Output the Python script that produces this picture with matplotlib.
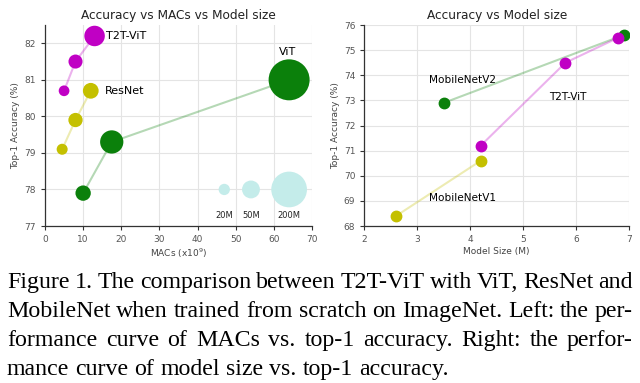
import matplotlib
matplotlib.use("Agg")
import matplotlib.pyplot as plt

# ==========================================
# Data
# ==========================================

# left: MACs (x10^9), top-1 (%), params (M)
t2t_macs = [5.0, 8.0, 13.0]
t2t_acc = [80.7, 81.5, 82.2]
t2t_params = [18, 31, 66]

resnet_macs = [4.5, 8.0, 12.0]
resnet_acc = [79.1, 79.9, 80.7]
resnet_params = [19, 32, 39]

vit_macs = [10.0, 17.5, 64.0]
vit_acc = [77.9, 79.3, 81.0]
vit_params = [37, 85, 264]

size_ref_macs = [47, 54, 64]
size_ref_acc = [78.0, 78.0, 78.0]
size_ref_params = [20, 50, 200]
size_ref_labels = ["20M", "50M", "200M"]

# right: model size (M), top-1 (%)
mbv2_size = [3.5, 6.9]
mbv2_acc = [72.9, 75.6]
t2t_small_size = [4.2, 5.8, 6.8]
t2t_small_acc = [71.2, 74.5, 75.5]
mbv1_size = [2.6, 4.2]
mbv1_acc = [68.4, 70.6]

caption_lines = [
    "Figure 1. The comparison between T2T-ViT with ViT, ResNet and",
    "MobileNet when trained from scratch on ImageNet. Left: the per-",
    "formance curve of MACs vs.  top-1 accuracy.  Right: the perfor-",
    "mance curve of model size vs. top-1 accuracy.",
]

MAG = "#c000c4"
YEL = "#c4c000"
GRN = "#0b800b"
CYAN = "#c4ecea"
SCALE = 3.3

plt.rcParams["font.family"] = "DejaVu Sans"

fig = plt.figure(figsize=(6.4, 3.83), dpi=100)
ax1 = fig.add_axes([0.0703, 0.4099, 0.4172, 0.5248])
ax2 = fig.add_axes([0.5692, 0.4099, 0.4136, 0.5248])


def style(ax):
    ax.grid(True, color="#e4e4e4", linewidth=0.8, zorder=0)
    ax.set_axisbelow(True)
    for s in ["top", "right"]:
        ax.spines[s].set_visible(False)
    for s in ["left", "bottom"]:
        ax.spines[s].set_color("#333333")
        ax.spines[s].set_linewidth(0.9)
    ax.tick_params(labelsize=6.5, colors="#333333", length=3, width=0.8,
                   labelcolor="#555555")


# ==========================================
# Left: Accuracy vs MACs vs Model size
# ==========================================

style(ax1)
for macs, acc, params, c in [
    (t2t_macs, t2t_acc, t2t_params, MAG),
    (resnet_macs, resnet_acc, resnet_params, YEL),
    (vit_macs, vit_acc, vit_params, GRN),
]:
    ax1.plot(macs, acc, color=c, alpha=0.3, linewidth=1.5, zorder=2)
    ax1.scatter(macs, acc, s=[p * SCALE for p in params], color=c,
                edgecolors="none", zorder=3)

ax1.scatter(size_ref_macs, size_ref_acc,
            s=[p * SCALE for p in size_ref_params], color=CYAN,
            edgecolors="none", zorder=3)
for x, lab in zip(size_ref_macs, size_ref_labels):
    ax1.text(x, 77.28, lab, fontsize=6, ha="center", va="center",
             color="#222222")

ax1.text(16.0, 82.2, "T2T-ViT", fontsize=8, va="center")
ax1.text(15.6, 80.7, "ResNet", fontsize=8, va="center")
ax1.text(61.2, 81.75, "ViT", fontsize=8, va="center")

ax1.set_xlim(0, 70)
ax1.set_ylim(77, 82.5)
ax1.set_xticks(range(0, 71, 10))
ax1.set_yticks(range(77, 83))
ax1.set_title("Accuracy vs MACs vs Model size", fontsize=8.7, pad=4,
              color="#222222")
ax1.set_xlabel("MACs (x10$^9$)", fontsize=6.5, color="#444444", labelpad=2)
ax1.set_ylabel("Top-1 Accuracy (%)", fontsize=6.5, color="#444444",
               labelpad=3)

# ==========================================
# Right: Accuracy vs Model size
# ==========================================

style(ax2)
for xs, ys, c in [
    (mbv2_size, mbv2_acc, GRN),
    (mbv1_size, mbv1_acc, YEL),
    (t2t_small_size, t2t_small_acc, MAG),
]:
    ax2.plot(xs, ys, color=c, alpha=0.3, linewidth=1.5, zorder=2)
    ax2.plot(xs, ys, "o", color=c, markersize=7.5, zorder=3)

ax2.text(3.22, 73.8, "MobileNetV2", fontsize=7.6, va="center")
ax2.text(5.5, 73.15, "T2T-ViT", fontsize=7.6, va="center")
ax2.text(3.22, 69.1, "MobileNetV1", fontsize=7.6, va="center")

ax2.set_xlim(2, 7)
ax2.set_ylim(68, 76)
ax2.set_xticks(range(2, 8))
ax2.set_yticks(range(68, 77))
ax2.set_title("Accuracy vs Model size", fontsize=8.7, pad=4, color="#222222")
ax2.set_xlabel("Model Size (M)", fontsize=6.5, color="#444444", labelpad=2)
ax2.set_ylabel("Top-1 Accuracy (%)", fontsize=6.5, color="#444444",
               labelpad=3)

# ==========================================
# Caption (justified)
# ==========================================

W, H = 640, 383
left_px, right_px = 7, 633
baselines = [288, 317, 346, 375]
cap_font = dict(fontsize=17.2, family="Liberation Serif", color="black",
                va="baseline", ha="left")

renderer = fig.canvas.get_renderer()
for i, line in enumerate(caption_lines):
    words = line.split()
    y = 1 - baselines[i] / H
    texts = [fig.text(0, y, w, **cap_font) for w in words]
    widths = [t.get_window_extent(renderer).width for t in texts]
    if i < len(caption_lines) - 1:
        gap = (right_px - left_px - sum(widths)) / (len(words) - 1)
    else:
        space = fig.text(0, y, "a a", **cap_font)
        aa = fig.text(0, y, "aa", **cap_font)
        gap = (space.get_window_extent(renderer).width
               - aa.get_window_extent(renderer).width)
        space.remove()
        aa.remove()
    x = left_px
    for t, w in zip(texts, widths):
        t.set_x(x / W)
        x += w + gap

fig.savefig("out.png", dpi=100)
